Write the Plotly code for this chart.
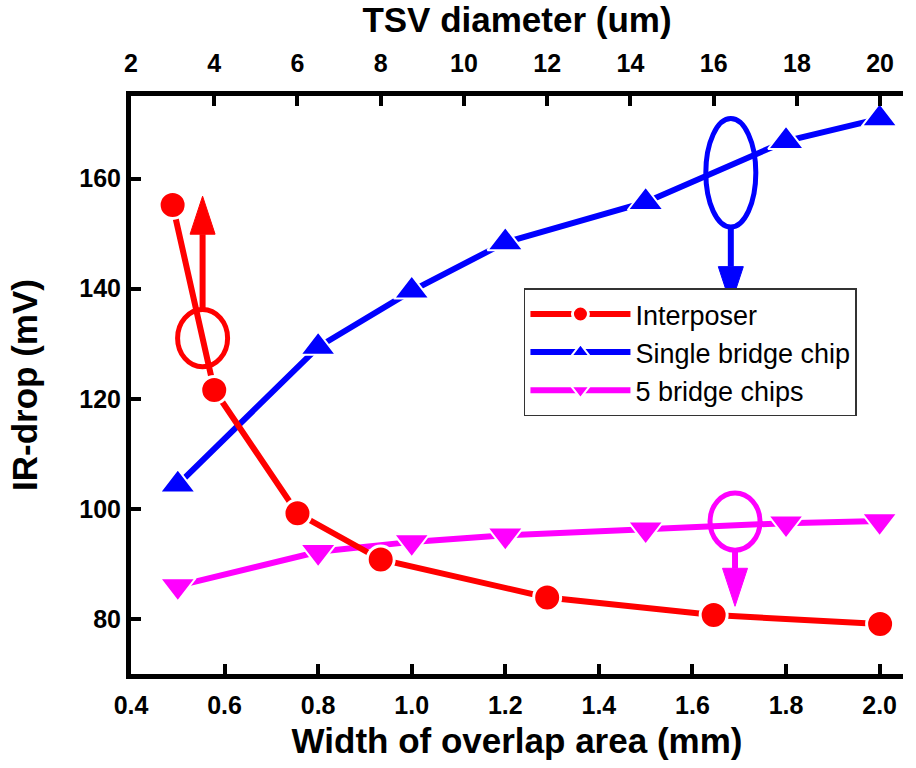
import plotly.graph_objects as go

# Interposer: IR-drop vs. TSV diameter (top axis)
tsv_diameter_um = [3, 4, 6, 8, 12, 16, 20]
interposer_mv = [155.2, 121.6, 99.2, 90.8, 83.9, 80.7, 79.1]

# Bridge chips: IR-drop vs. width of overlap area (bottom axis)
overlap_width_mm = [0.5, 0.8, 1.0, 1.2, 1.5, 1.8, 2.0]
single_bridge_mv = [104.4, 129.4, 139.6, 148.4, 155.7, 166.8, 170.9]
five_bridge_mv = [86.0, 92.2, 94.0, 95.2, 96.3, 97.4, 97.8]

x_ticks = [0.4, 0.6, 0.8, 1.0, 1.2, 1.4, 1.6, 1.8, 2.0]
x2_ticks = [2, 4, 6, 8, 10, 12, 14, 16, 18, 20]
y_ticks = [80, 100, 120, 140, 160]

X_RANGE = [0.4, 2.05]
X2_RANGE = [2, 20.55]
Y_RANGE = [70, 175]

RED = "#ff0000"
BLUE = "#0000ff"
MAGENTA = "#ff00ff"
FONT = "Liberation Sans, Arial, sans-serif"

W, H = 916, 768
M = dict(l=131, r=13, t=96, b=94)
PX_X = (X_RANGE[1] - X_RANGE[0]) / (W - M["l"] - M["r"])   # data units per pixel
PX_Y = (Y_RANGE[1] - Y_RANGE[0]) / (H - M["t"] - M["b"])

fig = go.Figure()

fig.add_trace(go.Scatter(
    x=tsv_diameter_um, y=interposer_mv, xaxis="x2", name="Interposer",
    mode="lines+markers",
    line=dict(color=RED, width=6),
    marker=dict(symbol="circle", size=27, color=RED, line=dict(color="white", width=3)),
))
fig.add_trace(go.Scatter(
    x=overlap_width_mm, y=single_bridge_mv, name="Single bridge chip",
    mode="lines+markers",
    line=dict(color=BLUE, width=6),
    marker=dict(symbol="triangle-up", size=31, color=BLUE, line=dict(color="white", width=2)),
))
fig.add_trace(go.Scatter(
    x=overlap_width_mm, y=five_bridge_mv, name="5 bridge chips",
    mode="lines+markers",
    line=dict(color=MAGENTA, width=6),
    marker=dict(symbol="triangle-down", size=31, color=MAGENTA, line=dict(color="white", width=2)),
))

# Ellipse + arrow markers pointing each group of curves to its x axis.
# (center x, ellipse y bottom, ellipse y top, arrow tip y, colour)
callouts = [
    (0.553, 125.8, 136.2, 156.8, RED),
    (1.682, 151.2, 170.9, 137.1, BLUE),
    (1.691, 92.5, 102.9, 82.3, MAGENTA),
]
HALF_W = 25 * PX_X          # ellipse half width
HEAD_L = 38 * PX_Y          # arrow head length
HEAD_W = 12.5 * PX_X        # arrow head half width
for cx, ey0, ey1, tip, c in callouts:
    fig.add_shape(type="circle", xref="x", yref="y",
                  x0=cx - HALF_W, x1=cx + HALF_W, y0=ey0, y1=ey1,
                  line=dict(color=c, width=5))
    if tip > ey1:
        start, base = ey1, tip - HEAD_L
    else:
        start, base = ey0, tip + HEAD_L
    fig.add_shape(type="line", xref="x", yref="y", x0=cx, x1=cx, y0=start, y1=base,
                  line=dict(color=c, width=6))
    fig.add_shape(type="path", xref="x", yref="y",
                  path=f"M{cx - HEAD_W},{base} L{cx + HEAD_W},{base} L{cx},{tip} Z",
                  fillcolor=c, line=dict(color=c, width=1))

axis_common = dict(
    showline=True, linecolor="black", linewidth=5, mirror=False,
    ticks="inside", ticklen=10, tickwidth=4, tickcolor="black",
    showgrid=False, zeroline=False,
    tickfont=dict(family=FONT, size=25, color="black", weight="bold"),
    title_font=dict(family=FONT, size=35, color="black", weight="bold"),
)

fig.update_layout(
    width=W, height=H,
    margin=M,
    paper_bgcolor="white", plot_bgcolor="white",
    showlegend=True,
    legend=dict(
        x=0.509, y=0.667, xanchor="left", yanchor="top",
        bgcolor="white", bordercolor="#333333", borderwidth=1.5,
        font=dict(family=FONT, size=27, color="black"),
        tracegroupgap=0, itemwidth=100,
    ),
    xaxis=dict(range=X_RANGE, tickvals=x_ticks,
               ticktext=[f"{v:.1f}" for v in x_ticks],
               ticklabelstandoff=5,
               title=dict(text="Width of overlap area (mm)", standoff=12),
               **axis_common),
    xaxis2=dict(range=X2_RANGE, tickvals=x2_ticks, overlaying="x", side="top",
                anchor="y", ticklabelstandoff=9,
                title=dict(text="TSV diameter (um)", standoff=7),
                **axis_common),
    yaxis=dict(range=Y_RANGE, tickvals=y_ticks,
               title=dict(text="IR-drop (mV)", standoff=33),
               **axis_common),
)

fig.write_html("out.html")
